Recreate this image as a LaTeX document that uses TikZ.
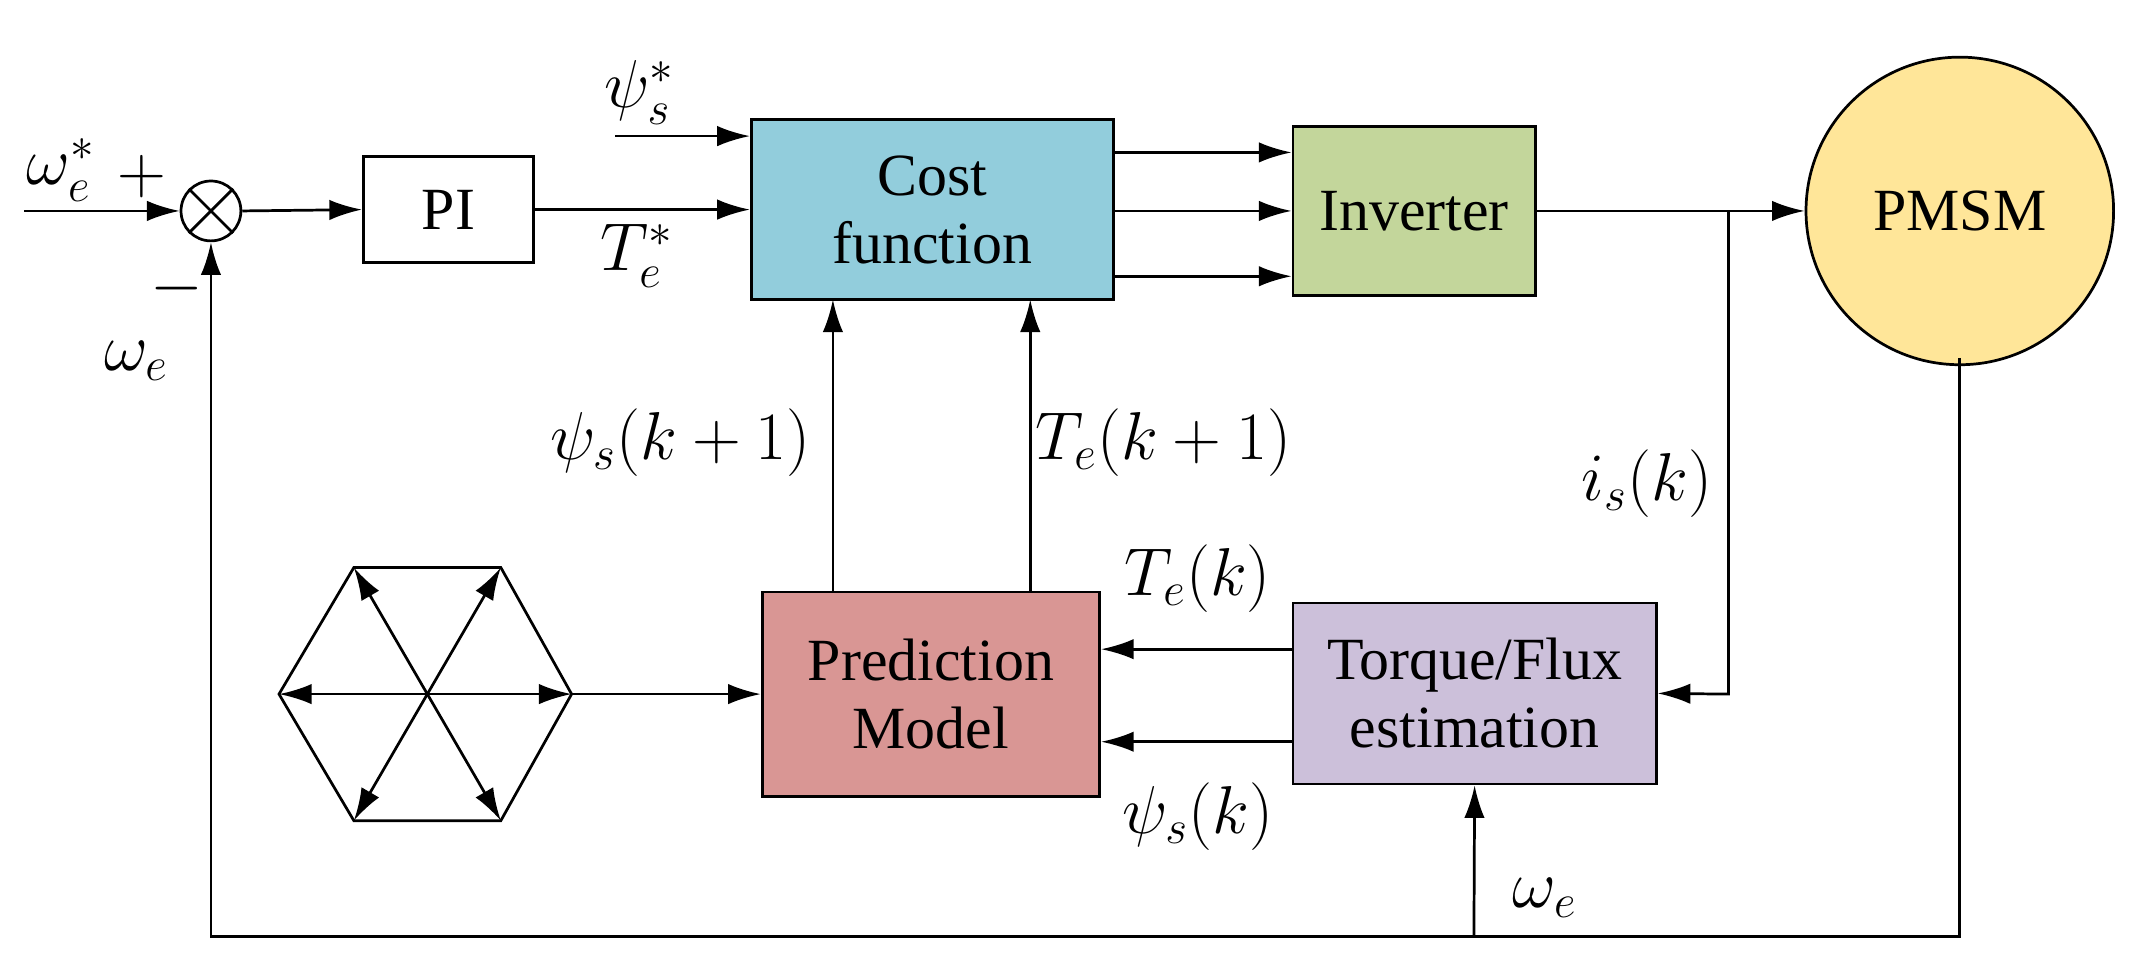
\documentclass[tikz,border=0pt]{standalone}
\usepackage{fontspec}
\setmainfont{Liberation Serif}
\usetikzlibrary{arrows.meta,calc}
\definecolor{costc}{RGB}{146,205,220}
\definecolor{invc}{RGB}{195,214,155}
\definecolor{motc}{RGB}{255,230,153}
\definecolor{predc}{RGB}{217,150,148}
\definecolor{estc}{RGB}{204,192,218}
\tikzset{every picture/.style={line width=1pt}}
\tikzset{blk/.style={draw,inner sep=0pt,align=center,font=\fontsize{22}{25}\selectfont},
  sig/.style={-{Latex[length=12pt,width=7.5pt]}},
  lbl/.style={font=\fontsize{24}{26}\selectfont}}
\begin{document}
\begin{tikzpicture}[x=0.5pt,y=0.5pt,yscale=-1,xscale=1]
\useasboundingbox (0,0) rectangle (1568,716);

% Blocks
\node[draw,circle,minimum size=22pt,inner sep=0pt] (sum) at (155,155) {};
\draw (sum.45) -- (sum.225) (sum.135) -- (sum.315);
\node[blk,minimum width=62.5pt,minimum height=39pt] (pi) at (329.5,154) {PI};
\node[blk,fill=costc,minimum width=133pt,minimum height=66pt] (cost) at (685,154) {Cost\\function};
\node[blk,fill=invc,minimum width=89pt,minimum height=62pt] (inv) at (1039,155) {Inverter};
\node[draw,circle,fill=motc,minimum size=113pt,inner sep=0pt,font=\fontsize{22}{25}\selectfont] (pmsm) at (1440,155) {PMSM};
\node[blk,fill=predc,minimum width=124pt,minimum height=75pt] (pred) at (684,510) {Prediction\\Model};
\node[blk,fill=estc,minimum width=133.5pt,minimum height=66.5pt] (est) at (1083.5,509.5) {Torque/Flux\\estimation};

% Hexagon of voltage vectors
\coordinate (hc) at (313,510);
\coordinate (h0) at (420,510);
\coordinate (h1) at (368,417);
\coordinate (h2) at (260,417);
\coordinate (h3) at (205,510);
\coordinate (h4) at (260,603);
\coordinate (h5) at (368,603);
\draw (h0) -- (h1) -- (h2) -- (h3) -- (h4) -- (h5) -- cycle;
\foreach \a/\b in {h0/h3,h1/h4,h2/h5}
  \draw[{Latex[length=12pt,width=7.5pt]}-{Latex[length=12pt,width=7.5pt]}] (\a) -- (\b);
\draw[sig] (h0) -- (pred.west);

% Forward path
\coordinate (win) at (18,155);
\draw[sig] (win) -- (sum.west);
\draw[sig] (sum.east) -- (pi.west);
\draw[sig] (pi.east) -- (cost.west);
\coordinate (psin) at (452,100);
\draw[sig] (psin) -- (psin -| cost.west);
\foreach \y in {112,155,203}
  \draw[sig] (cost.east |- 0,\y) -- (inv.west |- 0,\y);
\draw[sig] (inv.east) -- (pmsm.west);
\coordinate (br) at (1270,155);
\draw[sig] (br) -- (1270,510) -- (est.east);

% Prediction to cost
\draw[sig] (612,435) -- (612,220);
\draw[sig] (757,435) -- (757,220);
\draw[sig] (est.west |- 0,477) -- (pred.east |- 0,477);
\draw[sig] (est.west |- 0,545) -- (pred.east |- 0,545);

% Speed feedback
\coordinate (fb) at (1440,688);
\draw[sig] (pmsm.south |- 0,263) -- (fb) -- (155,688) -- (sum.south);
\draw[sig] (1083,688) -- (est.south);

% Labels
\node[lbl] at (45,125) {$\omega_e^*$};
\node[lbl] at (104,130) {$+$};
\node[lbl] at (130,212) {$-$};
\node[lbl] at (100,265) {$\omega_e$};
\node[lbl] at (470,68) {$\psi_s^*$};
\node[lbl] at (468,188) {$T_e^*$};
\node[lbl] at (500,325) {$\psi_s(k+1)$};
\node[lbl] at (855,325) {$T_e(k+1)$};
\node[lbl] at (1210,355) {$i_s(k)$};
\node[lbl] at (880,425) {$T_e(k)$};
\node[lbl] at (880,600) {$\psi_s(k)$};
\node[lbl] at (1135,660) {$\omega_e$};
\end{tikzpicture}
\end{document}
